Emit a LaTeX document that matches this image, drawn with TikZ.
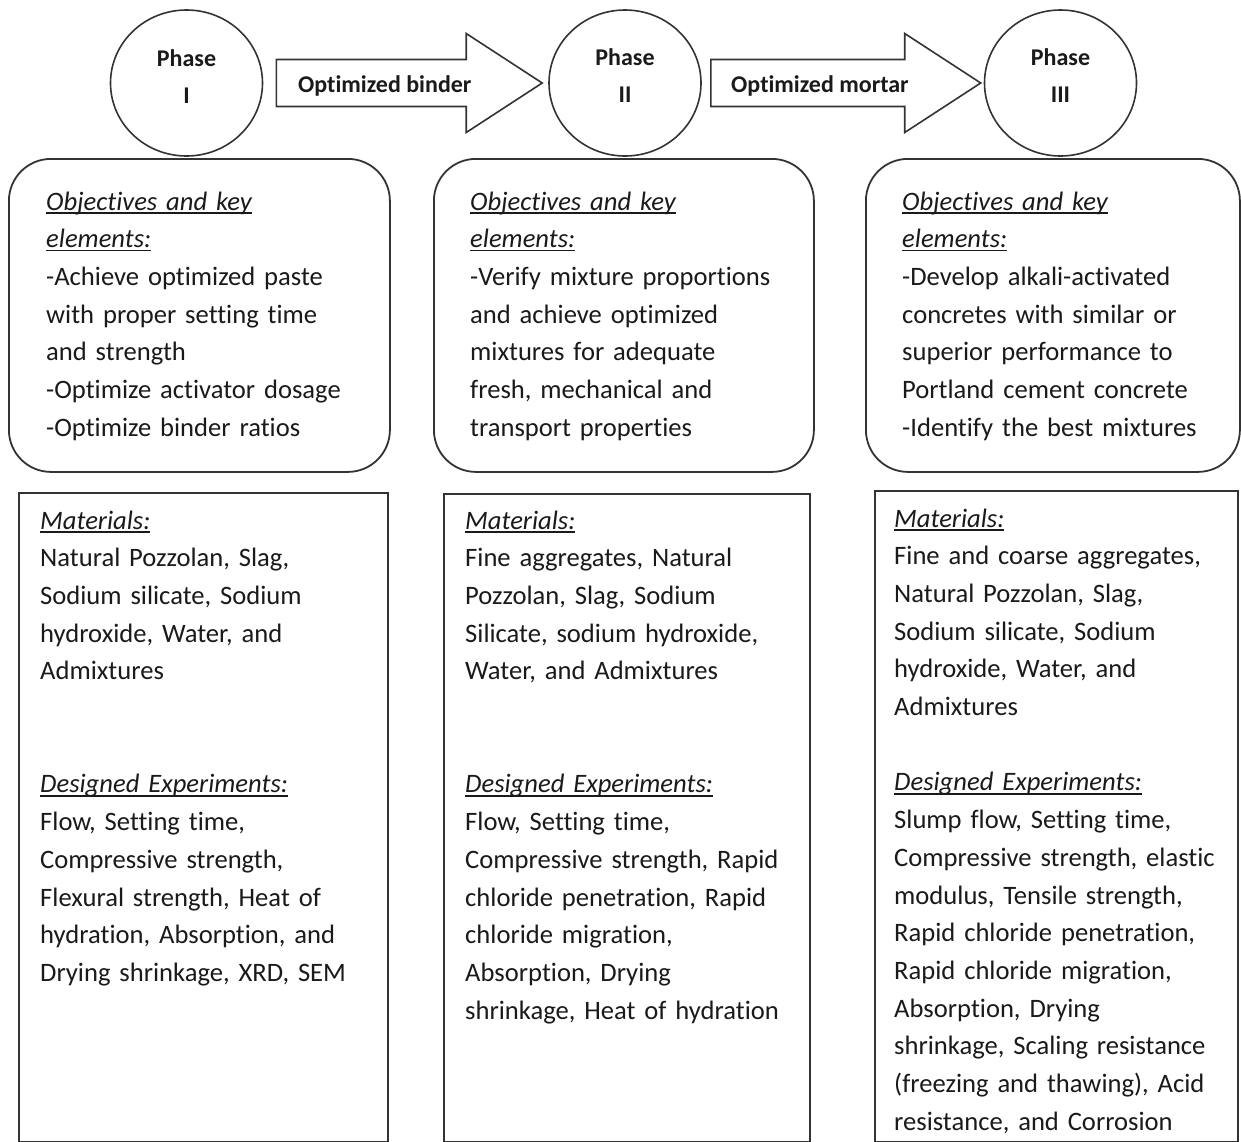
\documentclass[tikz,border=0pt]{standalone}
\usepackage{fontspec}
\setmainfont{Carlito}[Ligatures={TeX,NoCommon}]
\usetikzlibrary{shapes.geometric,calc}
\definecolor{ln}{HTML}{333333}
\definecolor{tx}{HTML}{1A1A1A}
\newcommand\hdr[1]{\leavevmode\setbox0=\hbox{\itshape #1}\rlap{\color{tx}\rule[-3.6pt]{\wd0}{1.4pt}}\box0}
\tikzset{
 phase/.style={draw=ln, line width=1.6pt, ellipse, inner sep=0pt, minimum width=152pt, minimum height=146pt},
 phasetext/.style={text=tx, font=\fontsize{24}{37}\selectfont\bfseries, align=center, text width=120pt, inner sep=0pt, anchor=base},
 blockarrow/.style={draw=ln, line width=1.6pt, line join=miter},
 arrowtext/.style={text=tx, font=\fontsize{24}{29}\selectfont\bfseries, inner sep=0pt, anchor=base west},
 objbox/.style={draw=ln, line width=1.8pt, rounded corners=42pt, inner sep=0pt, anchor=north west},
 matbox/.style={draw=ln, line width=1.8pt, inner sep=0pt, anchor=north west},
 body/.style={text=tx, font=\fontsize{26.6}{37.7}\selectfont, align=left, text width=370pt, inner sep=0pt, anchor=base west},
}
\begin{document}
\begin{tikzpicture}[x=1pt,y=-1pt]
\useasboundingbox (0,0) rectangle (1241,1141);
\fill[white] (0,0) rectangle (1241,1141);

% phase circles
\node[phase] (p1) at (186.5,83) {};
\node[phase] (p2) at (625,83) {};
\node[phase] (p3) at (1060.5,83) {};
\node[phasetext] (p1t) at (186.5,66) {Phase\\I};
\node[phasetext] (p2t) at (625,65) {Phase\\II};
\node[phasetext] (p3t) at (1060.5,65) {Phase\\III};

% block arrows
\draw[blockarrow] let \p1=($(p1.east)+(13,0)$), \p2=($(p2.west)+(-6,0)$) in
 (\x1,\y1+23.5pt) -- (\x2-76pt,\y1+23.5pt) -- (\x2-76pt,\y1+49.5pt) -- (\x2,\y1)
 -- (\x2-76pt,\y1-49.5pt) -- (\x2-76pt,\y1-23.5pt) -- (\x1,\y1-23.5pt) -- cycle;
\draw[blockarrow] let \p1=($(p2.east)+(9,0)$), \p2=($(p3.west)+(-3,0)$) in
 (\x1,\y1+23.5pt) -- (\x2-76pt,\y1+23.5pt) -- (\x2-76pt,\y1+49.5pt) -- (\x2,\y1)
 -- (\x2-76pt,\y1-49.5pt) -- (\x2-76pt,\y1-23.5pt) -- (\x1,\y1-23.5pt) -- cycle;
\node[arrowtext] (a1t) at (298,92) {Optimized binder};
\node[arrowtext] (a2t) at (731,92) {Optimized mortar};

% objective boxes
\node[objbox, minimum width=381pt, minimum height=313pt] (o1) at (8,158) {};
\node[objbox, minimum width=380pt, minimum height=313pt] (o2) at (433,158) {};
\node[objbox, minimum width=374pt, minimum height=313pt] (o3) at (865,158) {};

% materials boxes
\node[matbox, minimum width=369pt, minimum height=649pt] (m1) at (18,492) {};
\node[matbox, minimum width=366pt, minimum height=648pt] (m2) at (443,493) {};
\node[matbox, minimum width=363pt, minimum height=651pt] (m3) at (874,490) {};

% objective texts
\node[body] (o1t) at (46,210) {\hdr{Objectives and key}\\ \hdr{elements:}\\ -Achieve optimized paste\\ with proper setting time\\ and strength\\ -Optimize activator dosage\\ -Optimize binder ratios};
\node[body] (o2t) at (470,210) {\hdr{Objectives and key}\\ \hdr{elements:}\\ -Verify mixture proportions\\ and achieve optimized\\ mixtures for adequate\\ fresh, mechanical and\\ transport properties};
\node[body] (o3t) at (902,210) {\hdr{Objectives and key}\\ \hdr{elements:}\\ -Develop alkali-activated\\ concretes with similar or\\ superior performance to\\ Portland cement concrete\\ -Identify the best mixtures};

% materials texts
\node[body] (m1t) at (40,529) {\hdr{Materials:}\\ Natural Pozzolan, Slag,\\ Sodium silicate, Sodium\\ hydroxide, Water, and\\ Admixtures\\ \mbox{}\\ \mbox{}\\ \hdr{Designed Experiments:}\\ Flow, Setting time,\\ Compressive strength,\\ Flexural strength, Heat of\\ hydration, Absorption, and\\ Drying shrinkage, XRD, SEM};
\node[body] (m2t) at (465,529) {\hdr{Materials:}\\ Fine aggregates, Natural\\ Pozzolan, Slag, Sodium\\ Silicate, sodium hydroxide,\\ Water, and Admixtures\\ \mbox{}\\ \mbox{}\\ \hdr{Designed Experiments:}\\ Flow, Setting time,\\ Compressive strength, Rapid\\ chloride penetration, Rapid\\ chloride migration,\\ Absorption, Drying\\ shrinkage, Heat of hydration};
\node[body] (m3t) at (894,527) {\hdr{Materials:}\\ Fine and coarse aggregates,\\ Natural Pozzolan, Slag,\\ Sodium silicate, Sodium\\ hydroxide, Water, and\\ Admixtures\\ \mbox{}\\ \hdr{Designed Experiments:}\\ Slump flow, Setting time,\\ Compressive strength, elastic\\ modulus, Tensile strength,\\ Rapid chloride penetration,\\ Rapid chloride migration,\\ Absorption, Drying\\ shrinkage, Scaling resistance\\ (freezing and thawing), Acid\\ resistance, and Corrosion};
\end{tikzpicture}
\end{document}
